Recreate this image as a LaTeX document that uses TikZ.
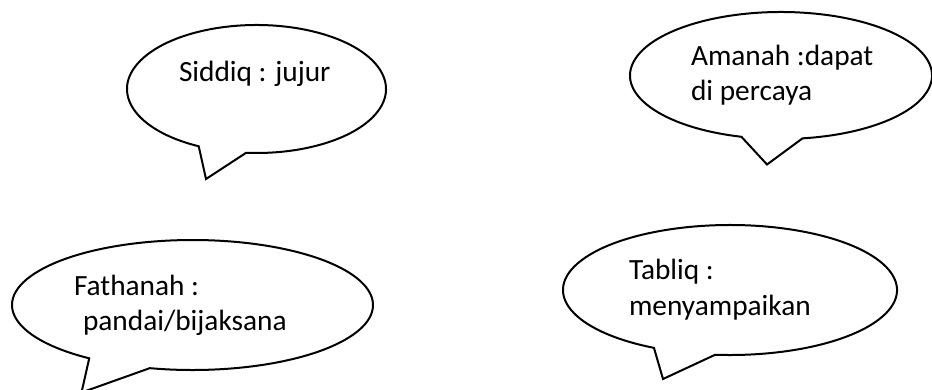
\documentclass[tikz,border=0pt]{standalone}
\usepackage{fontspec}
\setmainfont{Carlito}
\usetikzlibrary{calc,positioning}

\begin{document}
\begin{tikzpicture}[x=0.375pt, y=-0.375pt, line width=0.75pt, line join=miter,
	txt/.style={anchor=base west, inner sep=0pt, font=\fontsize{11}{13.4}\selectfont}]
		\useasboundingbox (0,0) rectangle (932,389);

		% tips of the bubbles
		\coordinate (tipSiddiq) at (206,179);
		\coordinate (tipAmanah) at (767,164.5);
		\coordinate (tipFathanah) at (81.5,392.5);
		\coordinate (tipTabliq) at (663,379);

		% bubbles
		\draw (256.5,89) ++(116.5:129.5 and 64) arc[start angle=116.5, end angle=454.6, x radius=129.5, y radius=64] -- (tipSiddiq) -- cycle;
		\draw (781,75.5) ++(105.2:151 and 63.5) arc[start angle=105.2, end angle=441.8, x radius=151, y radius=63.5] -- (tipAmanah) -- cycle;
		\draw (192.5,305) ++(124.9:180.5 and 65) arc[start angle=124.9, end angle=463.7, x radius=180.5, y radius=65] -- (tipFathanah) -- cycle;
		\draw (730,290) ++(117.1:167 and 65) arc[start angle=117.1, end angle=455.1, x radius=167, y radius=65] -- (tipTabliq) -- cycle;

		% texts
		\node[txt] (siddiq) at (178,81) {Siddiq : jujur};
		\node[txt] (amanah) at (690,65) {Amanah :dapat};
		\node[txt] (amanah2) at (690,100) {di percaya};
		\node[txt] (fathanah) at (73,295) {Fathanah :};
		\node[txt] (fathanah2) at (82,330) {pandai/bijaksana};
		\node[txt] (tabliq) at (628,279) {Tabliq :};
		\node[txt] (tabliq2) at (628,315) {menyampaikan};

	\end{tikzpicture}
\end{document}
